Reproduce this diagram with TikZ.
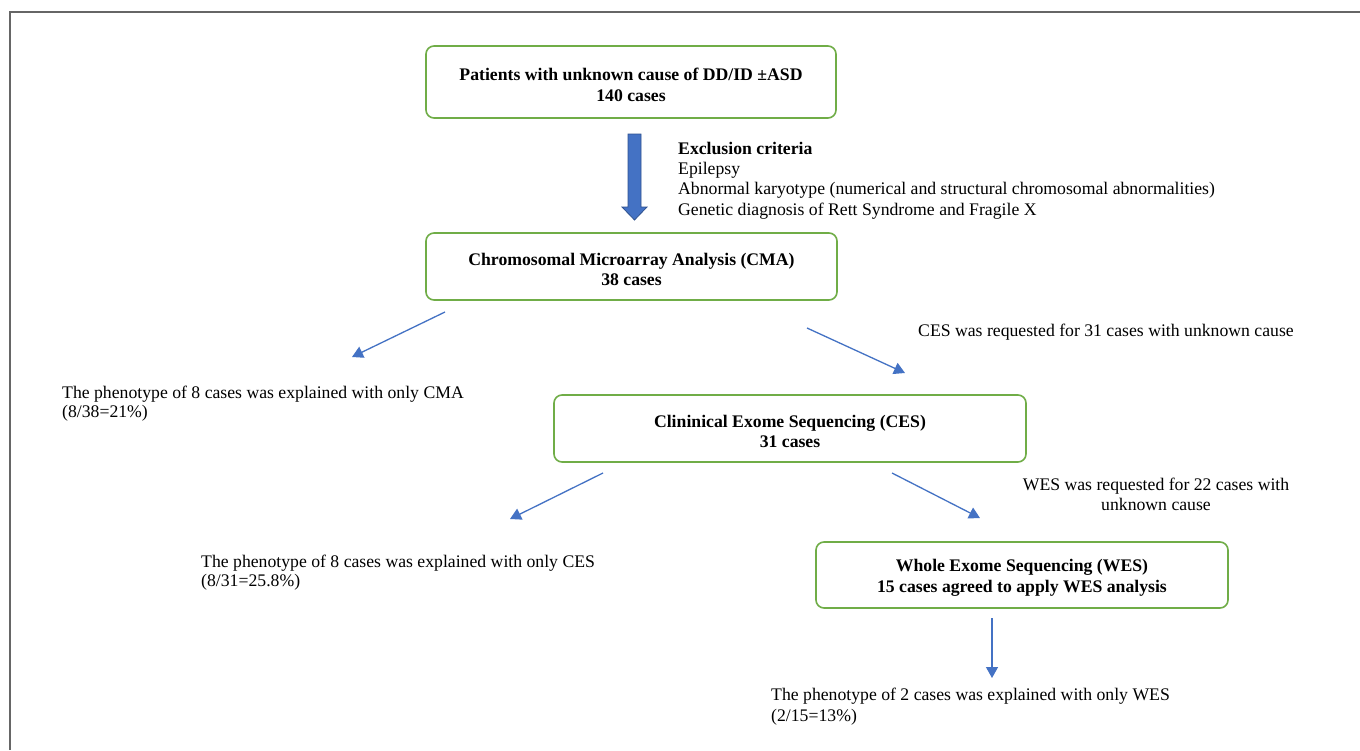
\documentclass[tikz,border=0pt]{standalone}
\usepackage{fontspec}
\setmainfont{Liberation Serif}
\usetikzlibrary{arrows.meta}
\definecolor{boxgreen}{HTML}{70AD47}
\definecolor{arrblue}{HTML}{4472C4}
\definecolor{arredge}{HTML}{2F528F}
\definecolor{framegray}{HTML}{666666}
\newcommand{\topstrut}{\rule{0pt}{18pt}}
\begin{document}
\begin{tikzpicture}[x=1pt,y=-1pt,
  every node/.style={font=\fontsize{17.7}{20}\selectfont},
  flowbox/.style={draw=boxgreen,line width=1.6pt,rounded corners=8pt,align=center,font=\fontsize{17.7}{20.5}\selectfont\bfseries},
  txt/.style={anchor=base west,inner sep=0pt},
  ctxt/.style={anchor=base,inner sep=0pt},
  conn/.style={draw=arrblue,line width=1.3pt,-{Triangle[length=11pt,width=12pt]}}
]
\useasboundingbox (0,0) rectangle (1360,750);
\fill[white] (0,0) rectangle (1360,750);
% frame
\draw[framegray,line width=2pt] (10,750) -- (10,12) -- (1360,12);

% boxes
\node[flowbox,minimum width=410pt,minimum height=72pt] (b1) at (631,82) {\topstrut Patients with unknown cause of DD/ID ±ASD\\140 cases};
\node[flowbox,minimum width=411pt,minimum height=67pt] (b2) at (631.5,266.5) {\topstrut Chromosomal Microarray Analysis (CMA)\\38 cases};
\node[flowbox,minimum width=472pt,minimum height=67pt] (b3) at (790,428.5) {\topstrut Clininical Exome Sequencing (CES)\\31 cases};
\node[flowbox,minimum width=412pt,minimum height=66pt] (b4) at (1022,575) {\topstrut Whole Exome Sequencing (WES)\\15 cases agreed to apply WES analysis};

% block arrow
\filldraw[fill=arrblue,draw=arredge,line width=0.8pt]
  (628,134) -- (641,134) -- (641,207) -- (647,207) -- (634.5,220) -- (622,207) -- (628,207) -- cycle;

% exclusion text
\node[txt,font=\fontsize{17.7}{20}\selectfont\bfseries] (ex0) at (678,154) {Exclusion criteria};
\node[txt] (ex1) at (678,174) {Epilepsy};
\node[txt] (ex2) at (678,194) {Abnormal karyotype (numerical and structural chromosomal abnormalities)};
\node[txt] (ex3) at (678,215) {Genetic diagnosis of Rett Syndrome and Fragile X};

% connector coordinates
\coordinate (a1s) at (445,312); \coordinate (a1e) at (352,357);
\coordinate (a2s) at (807,328); \coordinate (a2e) at (905,373);
\coordinate (a3s) at (603,473); \coordinate (a3e) at (510,519);
\coordinate (a4s) at (892,473); \coordinate (a4e) at (980,518);
\coordinate (a5s) at (992,618); \coordinate (a5e) at (992,678);
\draw[conn] (a1s) -- (a1e);
\draw[conn] (a2s) -- (a2e);
\draw[conn] (a3s) -- (a3e);
\draw[conn] (a4s) -- (a4e);
\draw[conn] (a5s) -- (a5e);

% labels
\node[txt] (l1) at (918,336) {CES was requested for 31 cases with unknown cause};
\node[txt] (r1a) at (62,398) {The phenotype of 8 cases was explained with only CMA};
\node[txt] (r1b) at (62,417) {(8/38=21\%)};
\node[ctxt] (l2a) at (1156,490) {WES was requested for 22 cases with};
\node[ctxt] (l2b) at (1156,510) {unknown cause};
\node[txt] (r2a) at (201,567) {The phenotype of 8 cases was explained with only CES};
\node[txt] (r2b) at (201,586) {(8/31=25.8\%)};
\node[txt] (r3a) at (771,700) {The phenotype of 2 cases was explained with only WES};
\node[txt] (r3b) at (771,721) {(2/15=13\%)};
\end{tikzpicture}
\end{document}
